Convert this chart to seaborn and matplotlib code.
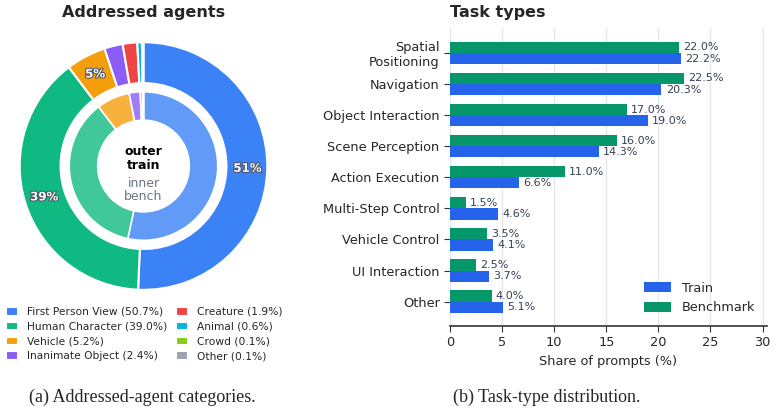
import numpy as np
import pandas as pd
import matplotlib.pyplot as plt
import matplotlib.patheffects as pe
from matplotlib.colors import to_rgba
import seaborn as sns

# =============================
# DATA
# =============================

agent_names = ["First Person View", "Human Character", "Vehicle", "Inanimate Object",
               "Creature", "Animal", "Crowd", "Other"]
agent_train = [50.7, 39.0, 5.2, 2.4, 1.9, 0.6, 0.1, 0.1]
agent_bench = [53.4, 36.3, 7.2, 2.4, 0.5, 0.2, 0.0, 0.0]
agent_colors = ["#3B82F6", "#10B981", "#F59E0B", "#8B5CF6",
                "#EF4444", "#06B6D4", "#84CC16", "#9CA3AF"]

tasks = ["Spatial\nPositioning", "Navigation", "Object Interaction", "Scene Perception",
         "Action Execution", "Multi-Step Control", "Vehicle Control", "UI Interaction", "Other"]
task_train = [22.2, 20.3, 19.0, 14.3, 6.6, 4.6, 4.1, 3.7, 5.1]
task_bench = [22.0, 22.5, 17.0, 16.0, 11.0, 1.5, 3.5, 2.5, 4.0]

TRAIN_COLOR = "#2563EB"
BENCH_COLOR = "#059669"
LABEL_COLOR = "#374151"

sns.set_style("white")
plt.rcParams["font.family"] = ["DejaVu Sans"]

fig = plt.figure(figsize=(7.76, 4.13), dpi=100)

# =============================
# (a) DONUT
# =============================
ax1 = fig.add_axes([0.0174, 0.283, 0.335, 0.630])
wedges, _ = ax1.pie(agent_train, radius=1.0, colors=agent_colors, startangle=90,
                    counterclock=False,
                    wedgeprops=dict(width=0.33, edgecolor="white", linewidth=1.5))
inner_colors = [to_rgba(c, 0.8) for c in agent_colors]
ax1.pie(agent_bench, radius=0.6, colors=inner_colors, startangle=90, counterclock=False,
        wedgeprops=dict(width=0.23, edgecolor="white", linewidth=1.2))

for w, v in zip(wedges, agent_train):
    if v < 5:
        continue
    ang = np.deg2rad((w.theta1 + w.theta2) / 2)
    r = 0.84
    ax1.text(r * np.cos(ang), r * np.sin(ang), f"{v:.0f}%", ha="center", va="center",
             color="white", fontsize=8.5, fontweight="bold",
             path_effects=[pe.withStroke(linewidth=1.5, foreground="#4b5563")])

ax1.text(0, 0.06, "outer\ntrain", ha="center", va="center", fontsize=9,
         fontweight="bold", color="black", linespacing=1.05)
ax1.text(0, -0.195, "inner\nbench", ha="center", va="center", fontsize=9,
         color="#6B7280", linespacing=1.0)
ax1.set_xlim(-1.05, 1.05)
ax1.set_ylim(-1.05, 1.05)
ax1.set_aspect("equal")

fig.text(143.5 / 776, 1 - 13 / 413, "Addressed agents", ha="center", va="center",
         fontsize=11.5, fontweight="bold")

leg_labels = [f"{n} ({v:.1f}%)" for n, v in zip(agent_names, agent_train)]
fig.legend(wedges, leg_labels, ncol=2, loc="upper left",
           bbox_to_anchor=(6 / 776, 1 - 307 / 413),
           frameon=False, fontsize=7.7, handlelength=1.1, handleheight=0.85,
           handletextpad=0.85, columnspacing=0.85, labelspacing=0.45,
           borderpad=0.0, borderaxespad=0.0)

# =============================
# (b) TASK TYPES
# =============================
df = pd.DataFrame({
    "task": tasks * 2,
    "share": task_bench + task_train,
    "split": ["Benchmark"] * len(tasks) + ["Train"] * len(tasks),
})

ax2 = fig.add_axes([0.580, 0.211, 0.408, 0.721])
sns.barplot(data=df, y="task", x="share", hue="split", hue_order=["Benchmark", "Train"],
            palette={"Benchmark": BENCH_COLOR, "Train": TRAIN_COLOR}, order=tasks,
            orient="h", width=0.72, saturation=1, linewidth=0, ax=ax2)
for cont in ax2.containers:
    ax2.bar_label(cont, fmt="%.1f%%", padding=3, fontsize=8, color=LABEL_COLOR)

ax2.set_xlim(0, 30.4)
ax2.set_ylim(8.78, -0.8)
ax2.set_xticks([0, 5, 10, 15, 20, 25, 30])
ax2.grid(axis="x", color="#e5e7eb", linewidth=1)
ax2.set_axisbelow(True)
for s in ["left", "top", "right"]:
    ax2.spines[s].set_visible(False)
ax2.spines["bottom"].set_color("#333333")
ax2.spines["bottom"].set_linewidth(1.2)
ax2.tick_params(axis="both", labelsize=9.3, length=4, color="#333333", bottom=True, left=True)
ax2.set_ylabel("")
ax2.set_xlabel("Share of prompts (%)", fontsize=9.3)
ax2.set_title("Task types", loc="left", fontsize=11.5, fontweight="bold", pad=8)

h, l = ax2.get_legend_handles_labels()
ax2.legend([h[1], h[0]], [l[1], l[0]], loc="lower right", frameon=False, fontsize=9.3,
           handlelength=2.1, handleheight=0.8)

# =============================
# CAPTIONS
# =============================
fig.text(142 / 776, 1 - 397 / 413, "(a) Addressed-agent categories.", ha="center", va="center",
         fontsize=13, family="Liberation Serif")
fig.text(547 / 776, 1 - 397 / 413, "(b) Task-type distribution.", ha="center", va="center",
         fontsize=13, family="Liberation Serif")

fig.savefig("out.png", dpi=100)
